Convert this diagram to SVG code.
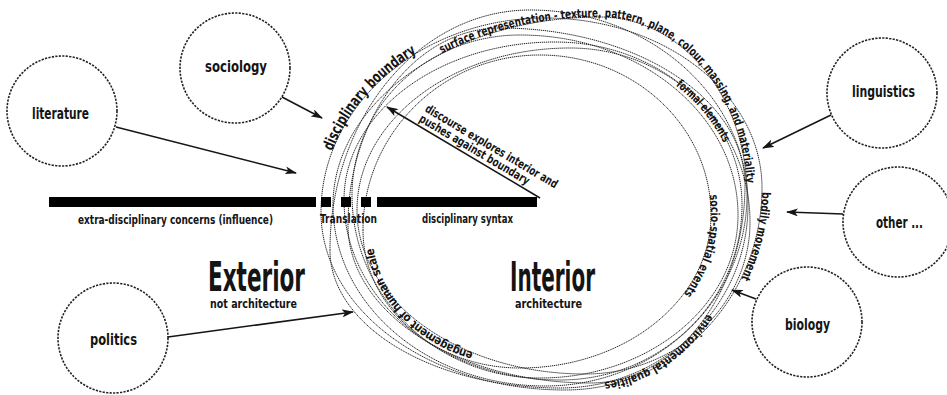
<svg xmlns="http://www.w3.org/2000/svg" xmlns:xlink="http://www.w3.org/1999/xlink" width="947" height="395" viewBox="0 0 947 395">
  <style>
    .lbl { font-family: "DejaVu Sans Condensed", "DejaVu Sans", "Liberation Sans", sans-serif; font-stretch: condensed; font-weight: bold; fill: #141414; }
    .node circle { fill: none; stroke: #222; stroke-width: 1.6; stroke-dasharray: 2.2 1.3; }
    .loop { fill: none; stroke: #262626; stroke-width: 1; stroke-dasharray: 1.3 0.7; }
    .conn { fill: none; stroke: #151515; stroke-width: 1.5; marker-end: url(#ah); }
    .bar { fill: #000; }
  </style>
  <defs>
    <marker id="ah" viewBox="0 0 12 8" refX="11" refY="4" markerWidth="12" markerHeight="8" orient="auto" markerUnits="userSpaceOnUse">
      <path d="M0,0 L12,4 L0,8 L3,4 Z" fill="#151515"/>
    </marker>
    <!-- baselines for the curved captions (segments of the loops) -->
    <path id="tp-boundary" d="M321,212 C321,104.9 421.4,18 545,18"/>
    <path id="tp-surface" d="M333,205 C333,101.2 452.6,17 600,17 C681.1,17 747,96.7 747,195"/>
    <path id="tp-formal" d="M555,42 C658.2,42 742,115 742,205"/>
    <path id="tp-bodily" d="M762,188 C762,299.5 673.7,390 565,390"/>
    <path id="tp-socio" d="M540,55 C634.4,55 711,126.7 711,215 C711,299.5 625.4,368 520,368"/>
    <path id="tp-env" d="M745,185 C745,294.3 675.6,383 590,383"/>
    <path id="tp-engage" d="M520,368 C433.3,368 363,306.2 363,230"/>
  </defs>

  <rect width="947" height="395" fill="#fff"/>

  <!-- bundle of hand-drawn loops: the disciplinary boundary -->
  <g id="boundary-loops">
    <path class="loop" d="M321,212 C321,104.9 421.4,18 545,18 C664.8,18 762,94.2 762,188 C762,299.5 673.7,390 565,390 C430.3,390 321,310.3 321,212Z"/>
    <path class="loop" d="M333,205 C333,101.2 452.6,17 600,17 C681.1,17 747,96.7 747,195 C747,300.4 656.5,386 545,386 C428,386 333,304.9 333,205Z"/>
    <path class="loop" d="M344,200 C344,112.8 438.5,42 555,42 C658.2,42 742,115 742,205 C742,301.6 660.5,380 560,380 C440.8,380 344,299.4 344,200Z"/>
    <path class="loop" d="M352,195 C352,106.7 427.3,35 520,35 C640.3,35 738,115.6 738,215 C738,305 649.3,378 540,378 C436.2,378 352,296 352,195Z"/>
    <path class="loop" d="M357,210 C357,120.6 452.4,48 570,48 C669.4,48 750,126 750,222 C750,305.9 676.1,374 585,374 C459.1,374 357,300.5 357,210Z"/>
    <path class="loop" d="M363,230 C363,133.4 442.3,55 540,55 C634.4,55 711,126.7 711,215 C711,299.5 625.4,368 520,368 C433.3,368 363,306.2 363,230Z"/>
    <path class="loop" d="M348,225 C348,116.3 416.1,28 500,28 C635.2,28 745,98.3 745,185 C745,294.3 675.6,383 590,383 C456.4,383 348,312.2 348,225Z"/>
    <path class="loop" d="M330,250 C330,117.5 419.6,10 530,10 C650.3,10 748,97.4 748,205 C748,306 663.8,388 560,388 C433,388 330,326.2 330,250Z"/>
  </g>

  <!-- captions running along the loops -->
  <g id="loop-captions" class="lbl">
    <text font-size="15.5"><textPath xlink:href="#tp-boundary" href="#tp-boundary" startOffset="62" textLength="132" lengthAdjust="spacingAndGlyphs">disciplinary boundary</textPath></text>
    <text font-size="12"><textPath xlink:href="#tp-surface" href="#tp-surface" startOffset="196" textLength="408" lengthAdjust="spacingAndGlyphs">surface representation - texture, pattern, plane, colour, massing, and materiality</textPath></text>
    <text font-size="12" dy="4"><textPath xlink:href="#tp-formal" href="#tp-formal" startOffset="132" textLength="77" lengthAdjust="spacingAndGlyphs">formal elements</textPath></text>
    <text font-size="12"><textPath xlink:href="#tp-bodily" href="#tp-bodily" startOffset="4" textLength="90" lengthAdjust="spacingAndGlyphs">bodily movement</textPath></text>
    <text font-size="12"><textPath xlink:href="#tp-socio" href="#tp-socio" startOffset="240" textLength="105" lengthAdjust="spacingAndGlyphs">socio-spatial events</textPath></text>
    <text font-size="12"><textPath xlink:href="#tp-env" href="#tp-env" startOffset="136" textLength="128" lengthAdjust="spacingAndGlyphs">environmental qualities</textPath></text>
    <text font-size="12" dy="9"><textPath xlink:href="#tp-engage" href="#tp-engage" startOffset="50" textLength="162" lengthAdjust="spacingAndGlyphs">engagement of human scale</textPath></text>
  </g>

  <!-- the axis from exterior to interior -->
  <g id="axis">
    <rect class="bar" x="49" y="197" width="267" height="10"/>
    <rect class="bar" x="321" y="197" width="10" height="10"/>
    <rect class="bar" x="341" y="197" width="10" height="10"/>
    <rect class="bar" x="361" y="197" width="10" height="10"/>
    <rect class="bar" x="377" y="197" width="160" height="10"/>
    <text class="lbl" x="175.5" y="224" font-size="13" text-anchor="middle" textLength="195" lengthAdjust="spacingAndGlyphs">extra-disciplinary concerns (influence)</text>
    <text class="lbl" x="348.5" y="223" font-size="13" text-anchor="middle" textLength="57" lengthAdjust="spacingAndGlyphs">Translation</text>
    <text class="lbl" x="467.5" y="223" font-size="13" text-anchor="middle" textLength="91" lengthAdjust="spacingAndGlyphs">disciplinary syntax</text>
  </g>

  <g id="exterior">
    <text class="lbl" x="256.5" y="291" font-size="41" text-anchor="middle" textLength="97" lengthAdjust="spacingAndGlyphs">Exterior</text>
    <text class="lbl" x="253.5" y="308" font-size="12.5" text-anchor="middle" textLength="87" lengthAdjust="spacingAndGlyphs">not architecture</text>
  </g>
  <g id="interior">
    <text class="lbl" x="552.5" y="291" font-size="41" text-anchor="middle" textLength="85" lengthAdjust="spacingAndGlyphs">Interior</text>
    <text class="lbl" x="548.5" y="308" font-size="12.5" text-anchor="middle" textLength="67" lengthAdjust="spacingAndGlyphs">architecture</text>
  </g>

  <!-- influences -->
  <g id="literature" class="node">
    <circle cx="62" cy="111" r="55"/>
    <text class="lbl" x="60.5" y="119" font-size="16" text-anchor="middle" textLength="57" lengthAdjust="spacingAndGlyphs">literature</text>
  </g>
  <g id="sociology" class="node">
    <circle cx="235" cy="68" r="55"/>
    <text class="lbl" x="236" y="72" font-size="16" text-anchor="middle" textLength="62" lengthAdjust="spacingAndGlyphs">sociology</text>
  </g>
  <g id="linguistics" class="node">
    <circle cx="882" cy="93" r="55"/>
    <text class="lbl" x="883.5" y="97" font-size="16" text-anchor="middle" textLength="63" lengthAdjust="spacingAndGlyphs">linguistics</text>
  </g>
  <g id="other" class="node">
    <circle cx="898" cy="222" r="55"/>
    <text class="lbl" x="899.5" y="228" font-size="16" text-anchor="middle" textLength="47" lengthAdjust="spacingAndGlyphs">other ...</text>
  </g>
  <g id="biology" class="node">
    <circle cx="807" cy="322" r="55"/>
    <text class="lbl" x="807.5" y="330" font-size="16" text-anchor="middle" textLength="45" lengthAdjust="spacingAndGlyphs">biology</text>
  </g>
  <g id="politics" class="node">
    <circle cx="113" cy="338" r="55"/>
    <text class="lbl" x="113.5" y="345" font-size="16" text-anchor="middle" textLength="47" lengthAdjust="spacingAndGlyphs">politics</text>
  </g>

  <!-- discourse pushing outward -->
  <g id="discourse" transform="translate(387,107) rotate(30.7)">
    <text class="lbl" x="34" y="-15.5" font-size="12" textLength="152" lengthAdjust="spacingAndGlyphs">discourse explores interior and</text>
    <text class="lbl" x="34" y="-4" font-size="12" textLength="126" lengthAdjust="spacingAndGlyphs">pushes against boundary</text>
  </g>

  <g id="connectors">
    <path class="conn" d="M116,127 L296,173"/>
    <path class="conn" d="M282,97 L322,118"/>
    <path class="conn" d="M831,115 L763,148"/>
    <path class="conn" d="M843,214 L787,212"/>
    <path class="conn" d="M756,299 L732,290"/>
    <path class="conn" d="M168,337 L353,312"/>
    <path class="conn" d="M540,198 L387,107"/>
  </g>
</svg>
